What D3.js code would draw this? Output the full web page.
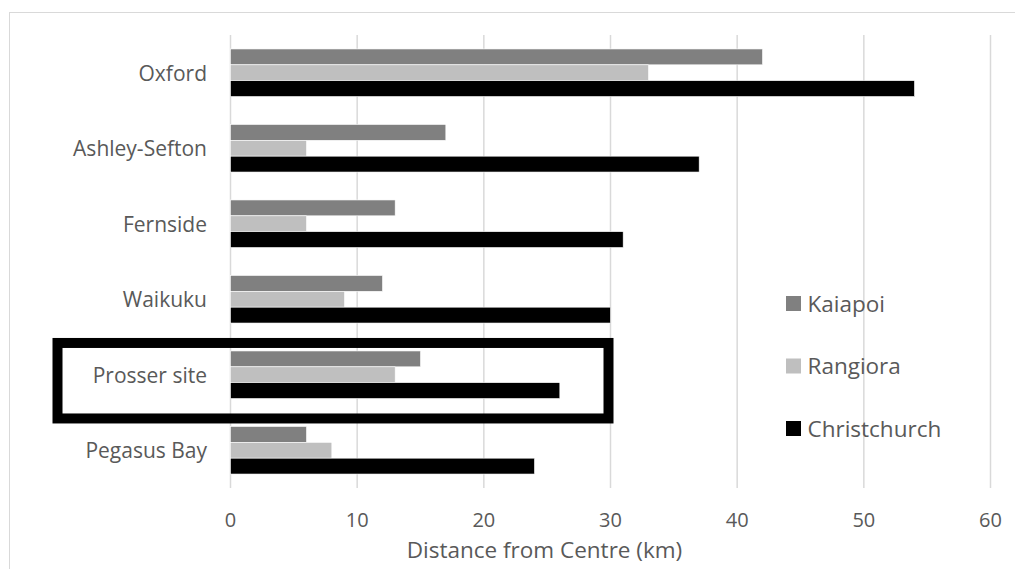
<!DOCTYPE html>
<html>
<head>
<meta charset="utf-8">
<script src="https://cdn.jsdelivr.net/npm/d3@7"></script>
<style>
  body { margin: 0; background: #fff; }
  text { font-family: "Open Sans", "Noto Sans", sans-serif; fill: #595959; }
</style>
</head>
<body>
<div id="chart"></div>
<script>
// chart data
const categories = ["Oxford", "Ashley-Sefton", "Fernside", "Waikuku", "Prosser site", "Pegasus Bay"];
const seriesNames = ["Kaiapoi", "Rangiora", "Christchurch"];
const kaiapoi = [42, 17, 13, 12, 15, 6];
const rangiora = [33, 6, 6, 9, 13, 8];
const christchurch = [54, 37, 31, 30, 26, 24];
const xTicks = [0, 10, 20, 30, 40, 50, 60];
const colors = ["#808080", "#bfbfbf", "#000000"];
const highlighted = "Prosser site";

const W = 1015, H = 569;

const svg = d3.select("#chart")
	.append("svg")
		.attr("width", W)
		.attr("height", H);

// chart area border
svg.append("rect")
	.attr("x", 9.5)
	.attr("y", 12.5)
	.attr("width", W + 20)
	.attr("height", H + 20)
	.attr("fill", "none")
	.attr("stroke", "#d9d9d9")
	.attr("stroke-width", 1);

let x = d3.scaleLinear().domain([0, 60]).range([230.5, 990.5]);

let y0 = d3.scaleBand()
	.domain(categories)
	.range([35, 488])
	.paddingInner(0.37)
	.paddingOuter(0.185);

let y1 = d3.scaleBand()
	.domain(seriesNames)
	.range([0, y0.bandwidth()]);

// gridlines
svg.append("g")
	.selectAll("line")
	.data(xTicks)
	.enter()
		.append("line")
		.attr("x1", d => x(d))
		.attr("x2", d => x(d))
		.attr("y1", 35)
		.attr("y2", 488)
		.attr("stroke", "#d9d9d9")
		.attr("stroke-width", 1.5);

// bars
let rows = categories.map((c, i) => {
	return {
		name: c,
		values: [kaiapoi[i], rangiora[i], christchurch[i]].map((v, j) => {
			return {series: seriesNames[j], value: v, color: colors[j]};
		})
	};
});

let groups = svg.append("g")
	.selectAll("g")
	.data(rows)
	.enter()
		.append("g")
		.attr("transform", d => "translate(0," + y0(d.name) + ")");

groups.selectAll("rect")
	.data(d => d.values)
	.enter()
		.append("rect")
		.attr("x", x(0))
		.attr("y", d => y1(d.series))
		.attr("width", d => x(d.value) - x(0))
		.attr("height", y1.bandwidth())
		.attr("fill", d => d.color)
		.attr("stroke", "#ffffff")
		.attr("stroke-width", 0.6);

// category labels
svg.append("g")
	.selectAll("text")
	.data(categories)
	.enter()
		.append("text")
		.attr("x", 207)
		.attr("y", d => y0(d) + y0.bandwidth() / 2 + 8)
		.attr("text-anchor", "end")
		.style("font-size", "21px")
		.text(d => d);

// x tick labels
svg.append("g")
	.selectAll("text")
	.data(xTicks)
	.enter()
		.append("text")
		.attr("x", d => x(d))
		.attr("y", 527)
		.attr("text-anchor", "middle")
		.style("font-size", "20px")
		.text(d => d);

// axis title
svg.append("text")
	.attr("x", 544.5)
	.attr("y", 558)
	.attr("text-anchor", "middle")
	.style("font-size", "22.5px")
	.text("Distance from Centre (km)");

// legend
let legend = svg.append("g")
	.selectAll("g")
	.data(seriesNames)
	.enter()
		.append("g")
		.attr("transform", (d, i) => "translate(786," + (296 + i * 62.5) + ")");

legend.append("rect")
	.attr("width", 15)
	.attr("height", 15)
	.attr("fill", (d, i) => colors[i]);

legend.append("text")
	.attr("x", 21.5)
	.attr("y", 15.5)
	.style("font-size", "22.5px")
	.text(d => d);

// highlight box round the Prosser site group
svg.append("rect")
	.attr("x", 57.5)
	.attr("y", y0(highlighted) - 8)
	.attr("width", x(30) - 2 - 57.5)
	.attr("height", y0.step())
	.attr("fill", "none")
	.attr("stroke", "#000")
	.attr("stroke-width", 10);
</script>
</body>
</html>
